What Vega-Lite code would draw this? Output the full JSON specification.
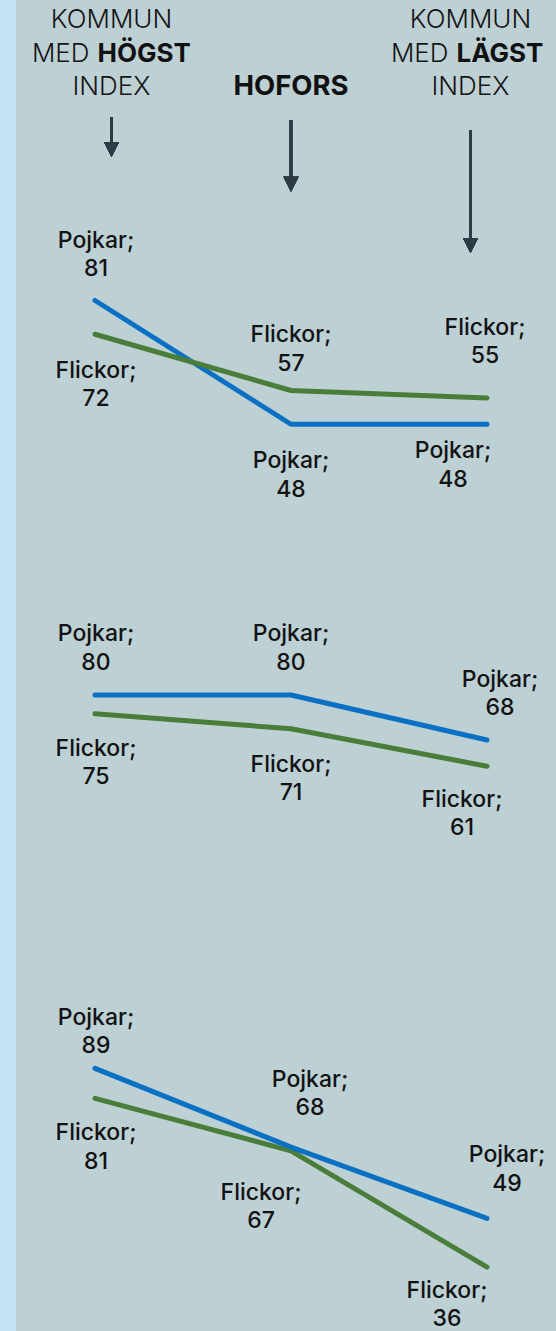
{
  "$schema": "https://vega.github.io/schema/vega-lite/v6.json",
  "width": 540,
  "height": 1331,
  "autosize": {"type": "none"},
  "padding": {"left": 16, "right": 0, "top": 0, "bottom": 0},
  "background": "#c4e3f5",
  "config": {
    "view": {"stroke": null, "fill": "#bdd0d4"},
    "axis": {"disable": true},
    "text": {"font": "Inter", "fontSize": 23, "fontWeight": 500, "lineHeight": 28.5, "baseline": "middle", "align": "center", "color": "#121212", "lineBreak": "\n"}
  },
  "datasets": {
    "varden": [
      {"panel": 1, "kommun": "Högst", "kon": "Pojkar", "index": 81},
      {"panel": 1, "kommun": "Hofors", "kon": "Pojkar", "index": 48},
      {"panel": 1, "kommun": "Lägst", "kon": "Pojkar", "index": 48},
      {"panel": 1, "kommun": "Högst", "kon": "Flickor", "index": 72},
      {"panel": 1, "kommun": "Hofors", "kon": "Flickor", "index": 57},
      {"panel": 1, "kommun": "Lägst", "kon": "Flickor", "index": 55},
      {"panel": 2, "kommun": "Högst", "kon": "Pojkar", "index": 80},
      {"panel": 2, "kommun": "Hofors", "kon": "Pojkar", "index": 80},
      {"panel": 2, "kommun": "Lägst", "kon": "Pojkar", "index": 68},
      {"panel": 2, "kommun": "Högst", "kon": "Flickor", "index": 75},
      {"panel": 2, "kommun": "Hofors", "kon": "Flickor", "index": 71},
      {"panel": 2, "kommun": "Lägst", "kon": "Flickor", "index": 61},
      {"panel": 3, "kommun": "Högst", "kon": "Pojkar", "index": 89},
      {"panel": 3, "kommun": "Hofors", "kon": "Pojkar", "index": 68},
      {"panel": 3, "kommun": "Lägst", "kon": "Pojkar", "index": 49},
      {"panel": 3, "kommun": "Högst", "kon": "Flickor", "index": 81},
      {"panel": 3, "kommun": "Hofors", "kon": "Flickor", "index": 67},
      {"panel": 3, "kommun": "Lägst", "kon": "Flickor", "index": 36}
    ],
    "rubrik": [
      {"kolumn": "Högst", "rad": 1, "del": "KOMMUN"},
      {"kolumn": "Högst", "rad": 2, "del": "MED"},
      {"kolumn": "Högst", "rad": 2, "del": "HÖGST"},
      {"kolumn": "Högst", "rad": 3, "del": "INDEX"},
      {"kolumn": "Hofors", "rad": 3, "del": "HOFORS"},
      {"kolumn": "Lägst", "rad": 1, "del": "KOMMUN"},
      {"kolumn": "Lägst", "rad": 2, "del": "MED"},
      {"kolumn": "Lägst", "rad": 2, "del": "LÄGST"},
      {"kolumn": "Lägst", "rad": 3, "del": "INDEX"}
    ]
  },
  "resolve": {"scale": {"x": "independent", "y": "independent"}},
  "layer": [
    {
      "data": {"name": "rubrik"},
      "encoding": {
        "x": {"field": "kolumn", "type": "nominal", "axis": null, "scale": {"type": "point", "domain": ["Högst", "Hofors", "Lägst"], "padding": 0.5042, "align": 0.5276}},
        "y": {"field": "rad", "type": "quantitative", "axis": null, "scale": {"domain": [0.1514, 40.06], "reverse": true, "nice": false, "zero": false}}
      },
      "layer": [
        {
          "transform": [{"filter": "datum.rad != 2 && datum.del != 'HOFORS'"}],
          "mark": {"type": "text", "font": "Inter", "fontWeight": 300, "fontSize": 26, "baseline": "alphabetic", "color": "#151515"},
          "encoding": {"text": {"field": "del", "type": "nominal"}}
        },
        {
          "transform": [{"filter": "datum.del == 'MED'"}],
          "mark": {"type": "text", "font": "Inter", "fontWeight": 300, "fontSize": 26, "baseline": "alphabetic", "align": "right", "dx": -22, "color": "#151515"},
          "encoding": {"text": {"field": "del", "type": "nominal"}}
        },
        {
          "transform": [{"filter": "datum.del == 'HÖGST' || datum.del == 'LÄGST'"}],
          "mark": {"type": "text", "font": "Inter", "fontWeight": 700, "fontSize": 26, "baseline": "alphabetic", "align": "left", "dx": -14, "color": "#111111"},
          "encoding": {"text": {"field": "del", "type": "nominal"}}
        },
        {
          "transform": [{"filter": "datum.del == 'HOFORS'"}],
          "mark": {"type": "text", "font": "Inter", "fontWeight": 700, "fontSize": 27.5, "baseline": "alphabetic", "color": "#111111"},
          "encoding": {"text": {"field": "del", "type": "nominal"}}
        },
        {
          "mark": {"type": "rule", "strokeWidth": 2.5, "color": "#2d3b44"},
          "encoding": {"x": {"datum": "Högst"}, "y": {"datum": 3.66}, "y2": {"datum": 4.7}}
        },
        {
          "mark": {"type": "point", "shape": "M-1,-1L1,-1L0,1Z", "size": 225, "filled": true, "opacity": 1, "color": "#2d3b44"},
          "encoding": {"x": {"datum": "Högst"}, "y": {"datum": 4.634}}
        },
        {
          "mark": {"type": "rule", "strokeWidth": 2.5, "color": "#2d3b44"},
          "encoding": {"x": {"datum": "Hofors"}, "y": {"datum": 3.75}, "y2": {"datum": 5.75}}
        },
        {
          "mark": {"type": "point", "shape": "M-1,-1L1,-1L0,1Z", "size": 225, "filled": true, "opacity": 1, "color": "#2d3b44"},
          "encoding": {"x": {"datum": "Hofors"}, "y": {"datum": 5.675}}
        },
        {
          "mark": {"type": "rule", "strokeWidth": 2.5, "color": "#2d3b44"},
          "encoding": {"x": {"datum": "Lägst"}, "y": {"datum": 4.05}, "y2": {"datum": 7.6}}
        },
        {
          "mark": {"type": "point", "shape": "M-1,-1L1,-1L0,1Z", "size": 225, "filled": true, "opacity": 1, "color": "#2d3b44"},
          "encoding": {"x": {"datum": "Lägst"}, "y": {"datum": 7.515}}
        }
      ]
    },
    {
      "data": {"name": "varden"},
      "transform": [{"filter": "datum.panel == 1"}, {"calculate": "datum.kon + ';\\n' + datum.index", "as": "etikett"}],
      "encoding": {
        "x": {"field": "kommun", "type": "nominal", "axis": null, "scale": {"type": "point", "domain": ["Högst", "Hofors", "Lägst"], "padding": 0.37755, "align": 0.5338}},
        "y": {"field": "index", "type": "quantitative", "axis": null, "scale": {"domain": [-193.8, 161.13], "nice": false, "zero": false}}
      },
      "layer": [
        {"transform": [{"filter": "datum.kon == 'Pojkar'"}], "mark": {"type": "line", "strokeWidth": 5, "strokeCap": "round", "strokeJoin": "round"}, "encoding": {"color": {"field": "kon", "type": "nominal", "legend": null, "scale": {"domain": ["Pojkar", "Flickor"], "range": ["#0a70c4", "#4a7d3a"]}}}},
        {"transform": [{"filter": "datum.kon == 'Flickor'"}], "mark": {"type": "line", "strokeWidth": 5, "strokeCap": "round", "strokeJoin": "round"}, "encoding": {"color": {"field": "kon", "type": "nominal", "legend": null, "scale": {"domain": ["Pojkar", "Flickor"], "range": ["#0a70c4", "#4a7d3a"]}}}},
        {"transform": [{"filter": "datum.kon == 'Pojkar' && datum.kommun == 'Högst'"}], "mark": {"type": "text", "dx": 1, "dy": -59.5}, "encoding": {"text": {"field": "etikett", "type": "nominal"}}},
        {"transform": [{"filter": "datum.kon == 'Flickor' && datum.kommun == 'Högst'"}], "mark": {"type": "text", "dx": 1, "dy": 36.5}, "encoding": {"text": {"field": "etikett", "type": "nominal"}}},
        {"transform": [{"filter": "datum.kon == 'Flickor' && datum.kommun == 'Hofors'"}], "mark": {"type": "text", "dx": 0, "dy": -55}, "encoding": {"text": {"field": "etikett", "type": "nominal"}}},
        {"transform": [{"filter": "datum.kon == 'Pojkar' && datum.kommun == 'Hofors'"}], "mark": {"type": "text", "dx": 0, "dy": 37}, "encoding": {"text": {"field": "etikett", "type": "nominal"}}},
        {"transform": [{"filter": "datum.kon == 'Flickor' && datum.kommun == 'Lägst'"}], "mark": {"type": "text", "dx": -2, "dy": -70}, "encoding": {"text": {"field": "etikett", "type": "nominal"}}},
        {"transform": [{"filter": "datum.kon == 'Pojkar' && datum.kommun == 'Lägst'"}], "mark": {"type": "text", "dx": -34, "dy": 27}, "encoding": {"text": {"field": "etikett", "type": "nominal"}}}
      ]
    },
    {
      "data": {"name": "varden"},
      "transform": [{"filter": "datum.panel == 2"}, {"calculate": "datum.kon + ';\\n' + datum.index", "as": "etikett"}],
      "encoding": {
        "x": {"field": "kommun", "type": "nominal", "axis": null, "scale": {"type": "point", "domain": ["Högst", "Hofors", "Lägst"], "padding": 0.37755, "align": 0.5338}},
        "y": {"field": "index", "type": "quantitative", "axis": null, "scale": {"domain": [-89.6, 265.33], "nice": false, "zero": false}}
      },
      "layer": [
        {"transform": [{"filter": "datum.kon == 'Pojkar'"}], "mark": {"type": "line", "strokeWidth": 5, "strokeCap": "round", "strokeJoin": "round"}, "encoding": {"color": {"field": "kon", "type": "nominal", "legend": null, "scale": {"domain": ["Pojkar", "Flickor"], "range": ["#0a70c4", "#4a7d3a"]}}}},
        {"transform": [{"filter": "datum.kon == 'Flickor'"}], "mark": {"type": "line", "strokeWidth": 5, "strokeCap": "round", "strokeJoin": "round"}, "encoding": {"color": {"field": "kon", "type": "nominal", "legend": null, "scale": {"domain": ["Pojkar", "Flickor"], "range": ["#0a70c4", "#4a7d3a"]}}}},
        {"transform": [{"filter": "datum.kon == 'Pojkar' && datum.kommun == 'Högst'"}], "mark": {"type": "text", "dx": 1, "dy": -60.5}, "encoding": {"text": {"field": "etikett", "type": "nominal"}}},
        {"transform": [{"filter": "datum.kon == 'Pojkar' && datum.kommun == 'Hofors'"}], "mark": {"type": "text", "dx": 0, "dy": -60.5}, "encoding": {"text": {"field": "etikett", "type": "nominal"}}},
        {"transform": [{"filter": "datum.kon == 'Pojkar' && datum.kommun == 'Lägst'"}], "mark": {"type": "text", "dx": 13, "dy": -60}, "encoding": {"text": {"field": "etikett", "type": "nominal"}}},
        {"transform": [{"filter": "datum.kon == 'Flickor' && datum.kommun == 'Högst'"}], "mark": {"type": "text", "dx": 1, "dy": 35}, "encoding": {"text": {"field": "etikett", "type": "nominal"}}},
        {"transform": [{"filter": "datum.kon == 'Flickor' && datum.kommun == 'Hofors'"}], "mark": {"type": "text", "dx": 0, "dy": 36}, "encoding": {"text": {"field": "etikett", "type": "nominal"}}},
        {"transform": [{"filter": "datum.kon == 'Flickor' && datum.kommun == 'Lägst'"}], "mark": {"type": "text", "dx": -25, "dy": 33.5}, "encoding": {"text": {"field": "etikett", "type": "nominal"}}}
      ]
    },
    {
      "data": {"name": "varden"},
      "transform": [{"filter": "datum.panel == 3"}, {"calculate": "datum.kon + ';\\n' + datum.index", "as": "etikett"}],
      "encoding": {
        "x": {"field": "kommun", "type": "nominal", "axis": null, "scale": {"type": "point", "domain": ["Högst", "Hofors", "Lägst"], "padding": 0.37755, "align": 0.5338}},
        "y": {"field": "index", "type": "quantitative", "axis": null, "scale": {"domain": [18.95, 373.88], "nice": false, "zero": false}}
      },
      "layer": [
        {"transform": [{"filter": "datum.kon == 'Flickor'"}], "mark": {"type": "line", "strokeWidth": 5, "strokeCap": "round", "strokeJoin": "round"}, "encoding": {"color": {"field": "kon", "type": "nominal", "legend": null, "scale": {"domain": ["Pojkar", "Flickor"], "range": ["#0a70c4", "#4a7d3a"]}}}},
        {"transform": [{"filter": "datum.kon == 'Pojkar'"}], "mark": {"type": "line", "strokeWidth": 5, "strokeCap": "round", "strokeJoin": "round"}, "encoding": {"color": {"field": "kon", "type": "nominal", "legend": null, "scale": {"domain": ["Pojkar", "Flickor"], "range": ["#0a70c4", "#4a7d3a"]}}}},
        {"transform": [{"filter": "datum.kon == 'Pojkar' && datum.kommun == 'Högst'"}], "mark": {"type": "text", "dx": 1, "dy": -50.5}, "encoding": {"text": {"field": "etikett", "type": "nominal"}}},
        {"transform": [{"filter": "datum.kon == 'Pojkar' && datum.kommun == 'Hofors'"}], "mark": {"type": "text", "dx": 19, "dy": -67.5}, "encoding": {"text": {"field": "etikett", "type": "nominal"}}},
        {"transform": [{"filter": "datum.kon == 'Pojkar' && datum.kommun == 'Lägst'"}], "mark": {"type": "text", "dx": 20, "dy": -63}, "encoding": {"text": {"field": "etikett", "type": "nominal"}}},
        {"transform": [{"filter": "datum.kon == 'Flickor' && datum.kommun == 'Högst'"}], "mark": {"type": "text", "dx": 1, "dy": 35}, "encoding": {"text": {"field": "etikett", "type": "nominal"}}},
        {"transform": [{"filter": "datum.kon == 'Flickor' && datum.kommun == 'Hofors'"}], "mark": {"type": "text", "dx": -30, "dy": 42}, "encoding": {"text": {"field": "etikett", "type": "nominal"}}},
        {"transform": [{"filter": "datum.kon == 'Flickor' && datum.kommun == 'Lägst'"}], "mark": {"type": "text", "dx": -40, "dy": 23.5}, "encoding": {"text": {"field": "etikett", "type": "nominal"}}}
      ]
    }
  ]
}
